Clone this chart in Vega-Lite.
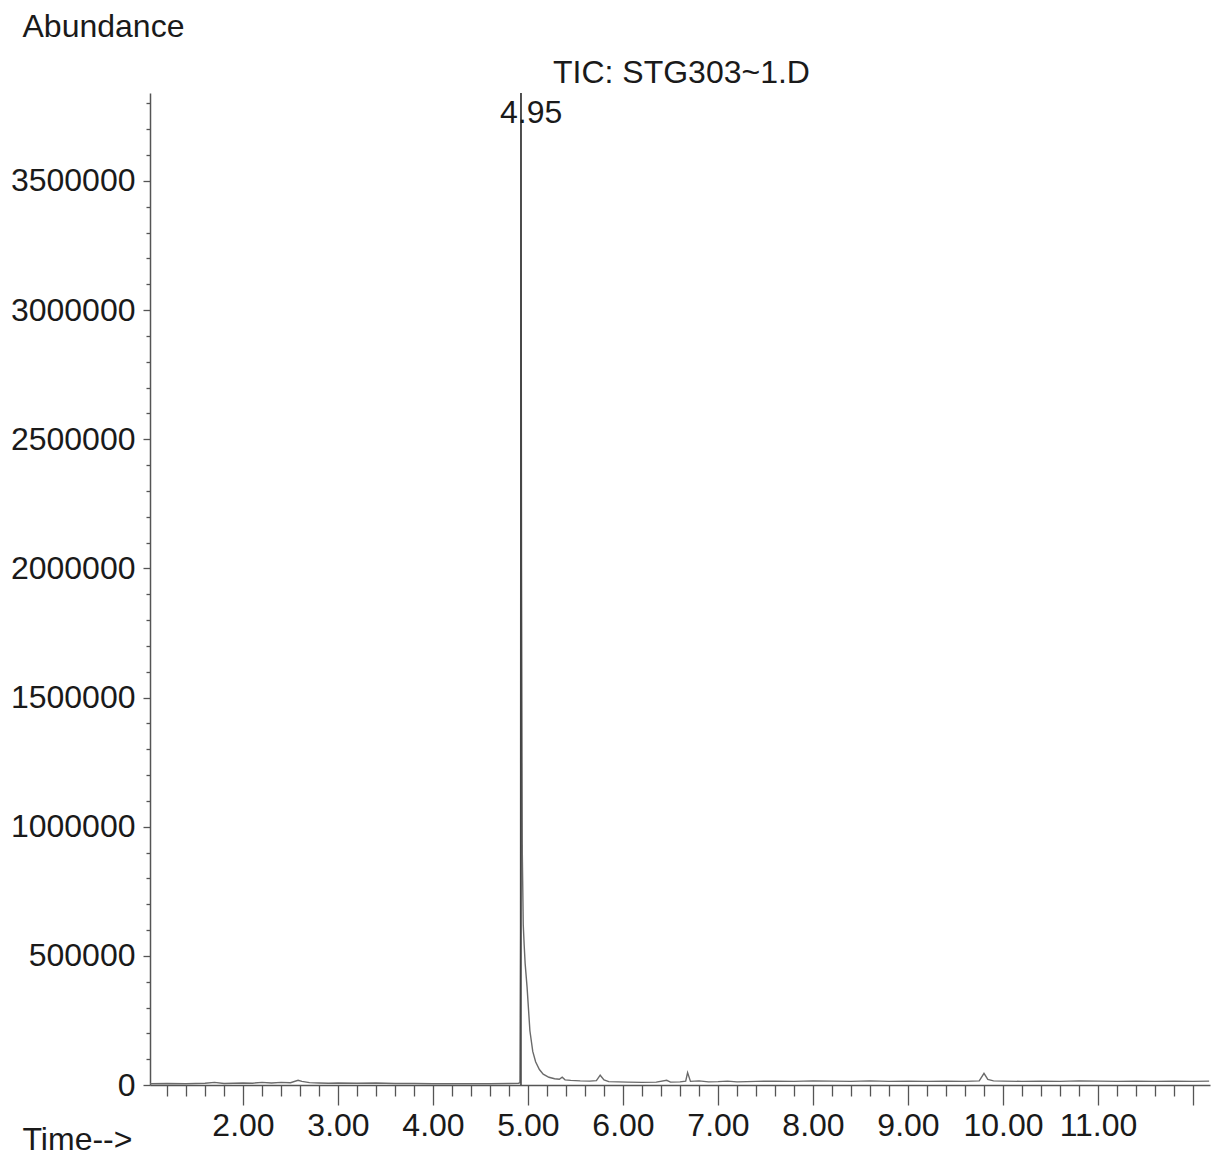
{
  "$schema": "https://vega.github.io/schema/vega-lite/v6.json",
  "autosize": {"type": "none"},
  "width": 1060,
  "height": 992,
  "padding": {"left": 150, "top": 93, "right": 2, "bottom": 73},
  "background": "white",
  "config": {
    "view": {"stroke": null},
    "font": "Liberation Sans"
  },
  "datasets": {
    "tic": [
      {"t": 1.02, "v": 5000}, {"t": 1.2, "v": 6000}, {"t": 1.4, "v": 5000}, {"t": 1.6, "v": 7000},
      {"t": 1.7, "v": 10000}, {"t": 1.8, "v": 6000}, {"t": 2.0, "v": 8000}, {"t": 2.1, "v": 7000},
      {"t": 2.2, "v": 10000}, {"t": 2.3, "v": 8000}, {"t": 2.4, "v": 10000}, {"t": 2.5, "v": 9000},
      {"t": 2.58, "v": 18000}, {"t": 2.62, "v": 14000}, {"t": 2.7, "v": 9000}, {"t": 2.8, "v": 8000},
      {"t": 2.9, "v": 7000}, {"t": 3.0, "v": 8000}, {"t": 3.2, "v": 7000}, {"t": 3.4, "v": 8000},
      {"t": 3.6, "v": 6000}, {"t": 3.8, "v": 6000}, {"t": 4.0, "v": 5000}, {"t": 4.2, "v": 5000},
      {"t": 4.4, "v": 5000}, {"t": 4.6, "v": 5000}, {"t": 4.8, "v": 6000}, {"t": 4.9, "v": 7000},
      {"t": 4.915, "v": 9000}, {"t": 4.921, "v": 600000}, {"t": 4.926, "v": 3840000}, {"t": 4.932, "v": 2000000},
      {"t": 4.94, "v": 900000}, {"t": 4.95, "v": 620000}, {"t": 4.96, "v": 540000}, {"t": 4.97, "v": 470000},
      {"t": 4.99, "v": 380000}, {"t": 5.02, "v": 210000}, {"t": 5.05, "v": 130000}, {"t": 5.08, "v": 90000},
      {"t": 5.12, "v": 60000}, {"t": 5.16, "v": 42000}, {"t": 5.22, "v": 30000}, {"t": 5.28, "v": 24000},
      {"t": 5.33, "v": 22000}, {"t": 5.36, "v": 30000}, {"t": 5.39, "v": 20000}, {"t": 5.45, "v": 18000},
      {"t": 5.55, "v": 16000}, {"t": 5.65, "v": 15000}, {"t": 5.72, "v": 17000}, {"t": 5.76, "v": 38000},
      {"t": 5.8, "v": 20000}, {"t": 5.85, "v": 13000}, {"t": 5.95, "v": 12000}, {"t": 6.05, "v": 11000},
      {"t": 6.2, "v": 10000}, {"t": 6.35, "v": 11000}, {"t": 6.46, "v": 18000}, {"t": 6.5, "v": 11000},
      {"t": 6.6, "v": 12000}, {"t": 6.66, "v": 15000}, {"t": 6.68, "v": 48000}, {"t": 6.71, "v": 14000},
      {"t": 6.8, "v": 16000}, {"t": 6.9, "v": 12000}, {"t": 7.0, "v": 13000}, {"t": 7.1, "v": 15000},
      {"t": 7.2, "v": 12000}, {"t": 7.4, "v": 14000}, {"t": 7.6, "v": 15000}, {"t": 7.8, "v": 14000},
      {"t": 8.0, "v": 16000}, {"t": 8.2, "v": 15000}, {"t": 8.4, "v": 14000}, {"t": 8.6, "v": 16000},
      {"t": 8.8, "v": 14000}, {"t": 9.0, "v": 15000}, {"t": 9.2, "v": 14000}, {"t": 9.4, "v": 15000},
      {"t": 9.6, "v": 14000}, {"t": 9.75, "v": 16000}, {"t": 9.8, "v": 45000}, {"t": 9.84, "v": 22000},
      {"t": 9.9, "v": 16000}, {"t": 10.0, "v": 15000}, {"t": 10.2, "v": 14000}, {"t": 10.4, "v": 15000},
      {"t": 10.6, "v": 14000}, {"t": 10.8, "v": 16000}, {"t": 11.0, "v": 15000}, {"t": 11.2, "v": 14000},
      {"t": 11.4, "v": 15000}, {"t": 11.6, "v": 14000}, {"t": 11.8, "v": 15000}, {"t": 12.0, "v": 14000},
      {"t": 12.17, "v": 15000}
    ],
    "peak": [
      {"t": 4.926, "v0": 0, "v1": 3840000, "vl": 3724000, "label": "4.95"}
    ],
    "head": [
      {"t": 5.263, "v": 3879000, "label": "TIC: STG303~1.D"}
    ]
  },
  "layer": [
    {
      "data": {"name": "tic"},
      "mark": {"type": "line", "color": "#6a6a6a", "strokeWidth": 1.4, "clip": true},
      "encoding": {
        "x": {
          "field": "t", "type": "quantitative",
          "scale": {"domain": [1.021, 12.179], "nice": false, "zero": false},
          "axis": {
            "title": "Time-->",
            "titleFont": "Liberation Sans", "titleFontSize": 32, "titleFontWeight": "normal", "titleColor": "#1a1a1a",
            "titleAngle": 0, "titleAlign": "left", "titleBaseline": "alphabetic", "titleX": -128, "titleY": 64,
            "grid": false,
            "domainColor": "#555555", "domainWidth": 1.5,
            "tickColor": "#555555", "tickWidth": 1.3,
            "tickCount": 200,
            "tickSize": {"condition": {"test": "abs(datum.value - round(datum.value)) < 0.01", "value": 20}, "value": 11},
            "values": [1.2, 1.4, 1.6, 1.8, 2.0, 2.2, 2.4, 2.6, 2.8, 3.0, 3.2, 3.4, 3.6, 3.8, 4.0, 4.2, 4.4, 4.6, 4.8, 5.0, 5.2, 5.4, 5.6, 5.8, 6.0, 6.2, 6.4, 6.6, 6.8, 7.0, 7.2, 7.4, 7.6, 7.8, 8.0, 8.2, 8.4, 8.6, 8.8, 9.0, 9.2, 9.4, 9.6, 9.8, 10.0, 10.2, 10.4, 10.6, 10.8, 11.0, 11.2, 11.4, 11.6, 11.8, 12.0],
            "labelExpr": "(abs(datum.value - round(datum.value)) < 0.01 && datum.value < 11.5) ? format(datum.value, '.2f') : ''",
            "labelOverlap": false, "labelFlush": false,
            "labelFont": "Liberation Sans", "labelFontSize": 32, "labelColor": "#1a1a1a", "labelPadding": 5
          }
        },
        "y": {
          "field": "v", "type": "quantitative",
          "scale": {"domain": [0, 3840000], "nice": false},
          "axis": {
            "title": "Abundance",
            "titleFont": "Liberation Sans", "titleFontSize": 32, "titleFontWeight": "normal", "titleColor": "#1a1a1a",
            "titleAngle": 0, "titleAlign": "left", "titleBaseline": "alphabetic", "titleX": -128, "titleY": -57,
            "grid": false,
            "domainColor": "#555555", "domainWidth": 1.5,
            "tickColor": "#555555", "tickWidth": 1.3,
            "tickCount": 200,
            "tickSize": {"condition": {"test": "datum.value % 500000 === 0", "value": 7}, "value": 4},
            "values": [0, 100000, 200000, 300000, 400000, 500000, 600000, 700000, 800000, 900000, 1000000, 1100000, 1200000, 1300000, 1400000, 1500000, 1600000, 1700000, 1800000, 1900000, 2000000, 2100000, 2200000, 2300000, 2400000, 2500000, 2600000, 2700000, 2800000, 2900000, 3000000, 3100000, 3200000, 3300000, 3400000, 3500000, 3600000, 3700000, 3800000],
            "labelExpr": "datum.value % 500000 === 0 ? format(datum.value, 'd') : ''",
            "labelOverlap": false, "labelFlush": false,
            "labelFont": "Liberation Sans", "labelFontSize": 32, "labelColor": "#1a1a1a", "labelPadding": 8
          }
        }
      }
    },
    {
      "data": {"name": "peak"},
      "mark": {"type": "rule", "color": "#3a3a3a", "strokeWidth": 1.5},
      "encoding": {
        "x": {"field": "t", "type": "quantitative"},
        "y": {"field": "v0", "type": "quantitative"},
        "y2": {"field": "v1"}
      }
    },
    {
      "data": {"name": "peak"},
      "mark": {"type": "text", "align": "left", "baseline": "alphabetic", "dx": -21, "fontSize": 32, "font": "Liberation Sans", "color": "#1a1a1a"},
      "encoding": {
        "x": {"field": "t", "type": "quantitative"},
        "y": {"field": "vl", "type": "quantitative"},
        "text": {"field": "label"}
      }
    },
    {
      "data": {"name": "head"},
      "mark": {"type": "text", "align": "left", "baseline": "alphabetic", "fontSize": 32, "font": "Liberation Sans", "color": "#1a1a1a"},
      "encoding": {
        "x": {"field": "t", "type": "quantitative"},
        "y": {"field": "v", "type": "quantitative"},
        "text": {"field": "label"}
      }
    }
  ]
}
